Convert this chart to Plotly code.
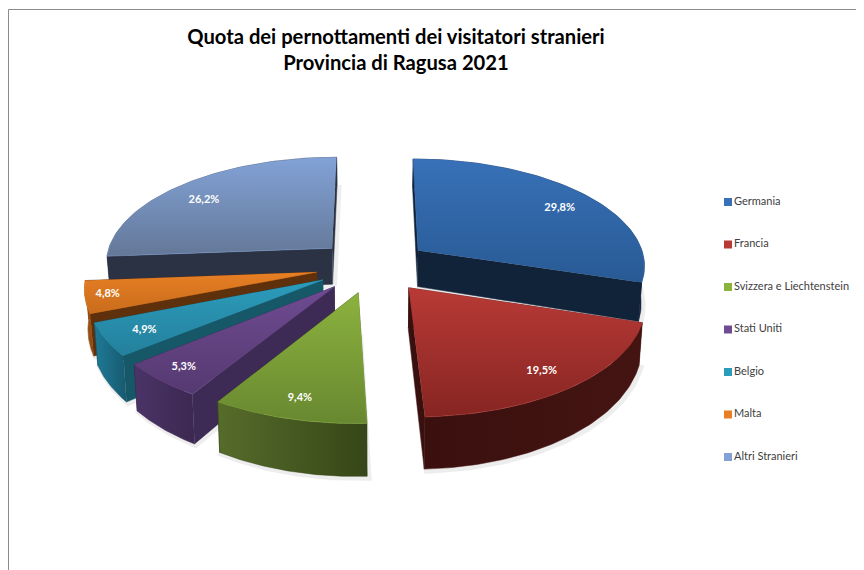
import numpy as np
import plotly.graph_objects as go

categories = ["Germania", "Francia", "Svizzera e Liechtenstein", "Stati Uniti", "Belgio", "Malta", "Altri Stranieri"]
values = [29.8, 19.5, 9.4, 5.3, 4.9, 4.8, 26.2]

top_light = ["#3871b8", "#b83a36", "#8cb23e", "#6f4b92", "#2c9cbc", "#e87f24", "#82a2d6"]
top_dark = ["#285a94", "#862522", "#688830", "#553970", "#24809c", "#c86c1c", "#647898"]
wall_left = ["#10233a", "#3a100e", "#566c2a", "#4a3468", "#1f7a96", "#a85a14", "#2a3244"]
wall_right = ["#10233a", "#441412", "#364618", "#3c2850", "#175a70", "#8a4810", "#2a3244"]
inner_wall = ["#112339", "#3a100e", "#3a4a1c", "#3e2b55", "#165768", "#5e300c", "#2a3244"]
paint_order = [6, 0, 5, 4, 3, 2, 1]
label_radius = 0.85
label_shift = [(0, 6), (-3, 0), (0, 1), (-5, 2), (4, 0), (-13, 1), (-1, 7)]

CX, CY, A, B, K, H, PULL, BASE_X = 373.0, 266.0, 228.0, 106.8, 0.1273, 37.5, 0.25, 0.988


def project(X, Y, z=0.0):
    s = 1.0 / (1.0 + K * np.asarray(Y, dtype=float))
    x = A * np.asarray(X, dtype=float) * s
    if z:
        x = x * BASE_X
    return CX + x, CY - B * np.asarray(Y, dtype=float) * s + z * H * s * s


total = sum(values)
edges = np.concatenate([[0.0], np.cumsum(values)]) / total * 2 * np.pi


def disc(i, r, th):
    mid = (edges[i] + edges[i + 1]) / 2
    return PULL * np.sin(mid) + r * np.sin(th), PULL * np.cos(mid) + r * np.cos(th)


def poly(xs, ys, c0, c1, kind):
    return go.Scatter(
        x=list(xs), y=list(ys), mode="lines", fill="toself", showlegend=False, hoverinfo="skip",
        line=dict(width=0.5, color=c1),
        fillgradient=dict(type=kind, colorscale=[[0, c0], [1, c1]]),
    )


fig = go.Figure()
for i in paint_order:
    th = np.linspace(edges[i], edges[i + 1], 70)
    X, Y = disc(i, 1.0, th)
    X0, Y0 = disc(i, 0.0, 0.0)
    tx, ty = project(X, Y)
    bx, by = project(X, Y, 1.0)
    ax, ay = project(X0, Y0)
    abx, aby = project(X0, Y0, 1.0)
    # soft shadow
    sx = np.concatenate([[abx], bx, [abx]])
    sy = np.concatenate([[aby], by, [aby]])
    fig.add_trace(go.Scatter(x=list(sx + 2), y=list(sy + 2), mode="lines", showlegend=False, hoverinfo="skip",
                             line=dict(width=5, color="rgba(0,0,0,0.07)")))
    # cut walls
    for e in (0, -1):
        fig.add_trace(poly([ax, tx[e], bx[e], abx], [ay, ty[e], by[e], aby],
                           inner_wall[i], inner_wall[i], "horizontal"))
    # outer wall
    fig.add_trace(poly(np.concatenate([tx, bx[::-1]]), np.concatenate([ty, by[::-1]]),
                       wall_left[i], wall_right[i], "horizontal"))
    # top face
    fig.add_trace(poly(np.concatenate([[ax], tx]), np.concatenate([[ay], ty]),
                       top_dark[i], top_light[i], "vertical"))

# data labels
for i, v in enumerate(values):
    mid = (edges[i] + edges[i + 1]) / 2
    lx, ly = project(*disc(i, label_radius, mid))
    fig.add_trace(go.Scatter(
        x=[float(lx) + label_shift[i][0]], y=[float(ly) + label_shift[i][1]], mode="text",
        text=[f"{v:.1f}".replace(".", ",") + "%"], showlegend=False, hoverinfo="skip",
        textfont=dict(family="Lato", size=11, color="white", weight="bold"),
    ))

# key
for i, name in enumerate(categories):
    fig.add_trace(go.Scatter(
        x=[728], y=[202 + i * 42.5], mode="markers+text", text=[name], textposition="middle right",
        name=name, showlegend=False, hoverinfo="skip",
        marker=dict(symbol="square", size=8, color=top_light[i], line=dict(width=0)),
        textfont=dict(family="Lato", size=11, color="#404040"),
    ))

fig.update_layout(
    width=864, height=570, margin=dict(l=0, r=0, t=0, b=0), paper_bgcolor="white", plot_bgcolor="white",
    xaxis=dict(range=[8, 872], visible=False, fixedrange=True),
    yaxis=dict(range=[578, 8], visible=False, fixedrange=True),
    title=dict(text="Quota dei pernottamenti dei visitatori stranieri<br>Provincia di Ragusa 2021",
               x=388 / 864, xanchor="center", y=1 - 35.5 / 570, yanchor="top",
               font=dict(family="Lato", size=20.2, color="black", weight="bold")),
    shapes=[
        dict(type="line", xref="x", yref="y", x0=8.5, x1=872, y0=9.5, y1=9.5, line=dict(color="#8c8c8c", width=1)),
        dict(type="line", xref="x", yref="y", x0=8.5, x1=8.5, y0=9.5, y1=578, line=dict(color="#8c8c8c", width=1)),
    ],
)
fig.write_html("out.html")
